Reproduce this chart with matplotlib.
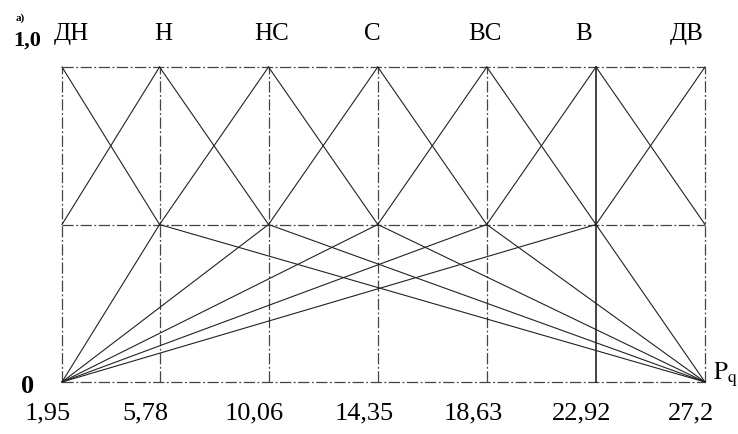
import matplotlib
matplotlib.use('Agg')
import matplotlib.pyplot as plt

# term centres on the P_q axis and their labels
centres = [1.95, 5.78, 10.06, 14.35, 18.63, 22.92, 27.2]
tick_labels = ['1,95', '5,78', '10,06', '14,35', '18,63', '22,92', '27,2']
terms = ['ДН', 'Н', 'НС', 'С', 'ВС', 'В', 'ДВ']
mu_peak = 1.0
mu_knee = 0.5
mu_zero = 0.0

plt.rcParams['font.family'] = ['Liberation Serif', 'DejaVu Serif']
plt.rcParams['mathtext.fontset'] = 'stix'

fig = plt.figure(figsize=(7.38, 4.34), dpi=100)
ax = fig.add_axes([62 / 738, 1 - 382 / 434, (705 - 62) / 738, (382 - 67) / 434])
ax.set_xlim(centres[0], centres[-1])
ax.set_ylim(mu_zero, mu_peak)
ax.axis('off')

grid_kw = dict(color='#444444', lw=0.9, linestyle=(0, (9, 2, 1.5, 2)), clip_on=False)
line_kw = dict(color='#222222', lw=0.8, clip_on=False)

# grid: horizontal levels and verticals at every centre
for lev in [mu_zero, mu_knee, mu_peak]:
    ax.plot([centres[0], centres[-1]], [lev, lev], **grid_kw)
for i, c in enumerate(centres):
    if i == 5:
        ax.plot([c, c], [mu_zero, mu_peak], color='#111111', lw=1.1, clip_on=False)
    else:
        ax.plot([c, c], [mu_zero, mu_peak], **grid_kw)

# upper parts: peak at own centre, falling to knee at neighbours
for i, c in enumerate(centres):
    if i > 0:
        ax.plot([centres[i - 1], c], [mu_knee, mu_peak], **line_kw)
    if i < len(centres) - 1:
        ax.plot([c, centres[i + 1]], [mu_peak, mu_knee], **line_kw)

# lower parts: from both ends of the range up to the knee of inner terms
for c in centres[1:-1]:
    ax.plot([centres[0], c], [mu_zero, mu_knee], **line_kw)
    ax.plot([c, centres[-1]], [mu_knee, mu_zero], **line_kw)

# term names above the chart (small shifts in points, as in the scan)
name_shift = [7, 3, 2, -4, -1, -9, -13]
for c, t, dx in zip(centres, terms, name_shift):
    ax.annotate(t, (c, mu_peak), xytext=(dx, 24), textcoords='offset points',
                ha='center', va='center', fontsize=18, annotation_clip=False)

# x tick labels
for c, lab in zip(centres, tick_labels):
    ax.annotate(lab, (c, mu_zero), xytext=(-10, -23), textcoords='offset points',
                ha='center', va='center', fontsize=19, annotation_clip=False)

ax.annotate('1,0', (centres[0], mu_peak), xytext=(-25, 19), textcoords='offset points',
            ha='center', va='center', fontsize=16, fontweight='bold', annotation_clip=False)
ax.annotate('0', (centres[0], mu_zero), xytext=(-25, -3), textcoords='offset points',
            ha='center', va='center', fontsize=19, fontweight='bold', annotation_clip=False)
ax.annotate('а)', (centres[0], mu_peak), xytext=(-30, 35), textcoords='offset points',
            ha='center', va='center', fontsize=8, fontweight='bold', annotation_clip=False)
ax.annotate(r'$\mathrm{P}_\mathrm{q}$', (centres[-1], mu_zero), xytext=(6, 2),
            textcoords='offset points', ha='left', va='baseline', fontsize=18,
            annotation_clip=False)

plt.savefig('out.png', dpi=100)
